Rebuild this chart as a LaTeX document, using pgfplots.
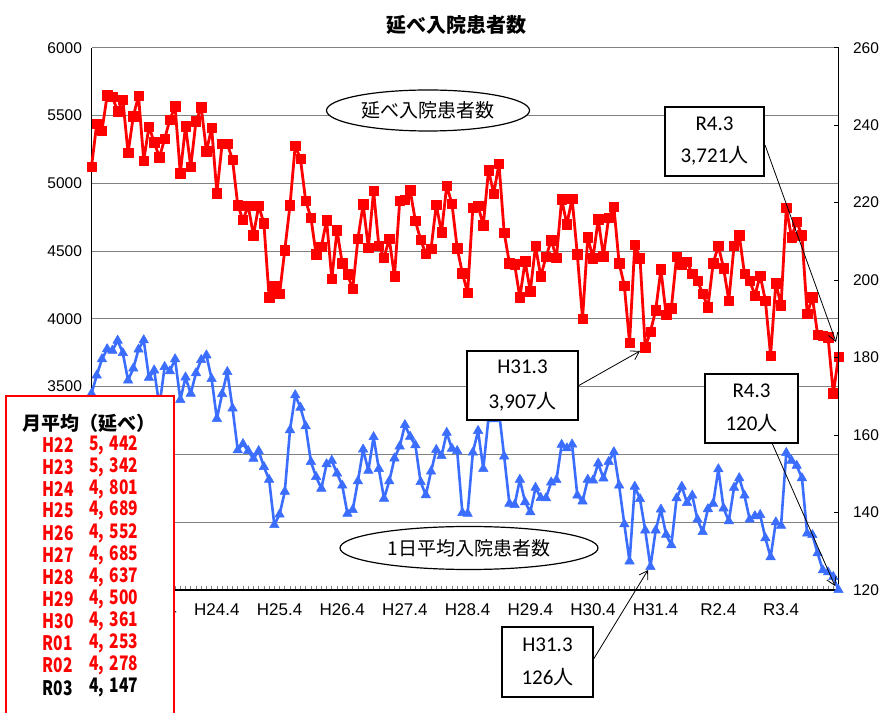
\documentclass[border=0pt]{standalone}
\usepackage{pgfplots}
\pgfplotsset{compat=1.18}
\usepackage{pgfplotstable}
\usepackage{fontspec}
\setmainfont{Liberation Sans}
\newfontfamily\jp{Noto Sans CJK JP}
\newfontfamily\jpn{Noto Sans CJK JP}[FakeStretch=0.78]
\newfontfamily\calfont{Carlito}
\usetikzlibrary{arrows.meta}
\definecolor{myred}{RGB}{255,0,0}
\definecolor{myblue}{RGB}{59,110,255}
\definecolor{gridgray}{RGB}{128,128,128}

\pgfplotstableread{
i red blue
0 5122 170.7
1 5438 175.4
2 5389 179.6
3 5648 182.2
4 5636 181.8
5 5532 184.4
6 5616 181.2
7 5223 174.1
8 5493 177.2
9 5645 182.1
10 5167 184.5
11 5419 174.8
12 5302 176.7
13 5191 167.5
14 5327 177.6
15 5470 176.5
16 5567 179.6
17 5073 169.1
18 5421 174.9
19 5122 170.7
20 5456 176.0
21 5562 179.4
22 5236 180.6
23 5409 174.5
24 4927 164.2
25 5290 170.6
26 5290 176.3
27 5174 166.9
28 4838 156.1
29 4730 157.7
30 4833 155.9
31 4616 153.9
32 4833 155.9
33 4705 151.8
34 4159 148.5
35 4241 136.8
36 4184 139.5
37 4507 145.4
38 4838 161.3
39 5278 170.3
40 5179 167.1
41 4870 162.3
42 4747 153.1
43 4475 149.2
44 4532 146.2
45 4727 152.5
46 4295 153.4
47 4653 150.1
48 4410 147.0
49 4330 139.7
50 4220 140.7
51 4590 148.1
52 4845 156.3
53 4525 150.8
54 4943 159.5
55 4540 151.3
56 4452 143.6
57 4590 148.1
58 4313 154.0
59 4869 157.1
60 4879 162.6
61 4948 159.6
62 4722 157.4
63 4584 147.9
64 4480 144.5
65 4517 150.6
66 4842 156.2
67 4638 154.6
68 4980 160.6
69 4850 156.5
70 4522 155.9
71 4337 139.9
72 4192 139.7
73 4820 155.5
74 4833 161.1
75 4690 151.3
76 5096 164.4
77 4924 164.1
78 5145 166.0
79 4636 154.5
80 4411 142.3
81 4402 142.0
82 4158 148.5
83 4424 142.7
84 4204 140.1
85 4537 146.4
86 4313 143.8
87 4456 143.7
88 4581 147.8
89 4451 148.4
90 4882 157.5
91 4697 156.6
92 4887 157.6
93 4475 144.4
94 4000 142.9
95 4603 148.5
96 4448 148.3
97 4734 152.7
98 4463 148.8
99 4746 153.1
100 4825 155.6
101 4411 147.0
102 4246 137.0
103 3823 127.4
104 4547 146.7
105 4448 143.5
106 3791 135.4
107 3907 126.0
108 4062 135.4
109 4365 140.8
110 4030 134.3
111 4079 131.6
112 4456 143.7
113 4401 146.7
114 4419 142.5
115 4333 144.4
116 4283 138.2
117 4185 135.0
118 4086 140.9
119 4411 142.3
120 4537 151.2
121 4374 141.1
122 4135 137.8
123 4537 146.4
124 4616 148.9
125 4333 144.4
126 4283 138.2
127 4172 139.1
128 4320 139.4
129 4135 133.4
130 3730 128.5
131 4264 137.5
132 4099 136.6
133 4818 155.4
134 4603 153.4
135 4714 152.1
136 4616 148.9
137 4037 134.6
138 4160 134.2
139 3884 129.5
140 3877 125.1
141 3865 124.6
142 3450 123.4
143 3721 120.0
}\data

\begin{document}
\begin{tikzpicture}[x=1pt,y=1pt]
\useasboundingbox (0,0) rectangle (883,712);
\begin{axis}[
  at={(91.5pt,122pt)}, anchor=south west,
  scale only axis, width=747pt, height=542.3pt,
  xmin=0, xmax=143, ymin=2000, ymax=6000,
  axis x line*=bottom, axis y line*=left,
  axis line style={-, black, line width=1.3pt},
  ytick={2000,2500,...,6000},
  yticklabels={,,,3500,4000,4500,5000,5500,6000},
  ymajorgrids, grid style={gridgray, line width=1pt},
  ytick style={draw=none},
  xtick={0,12,...,132},
  xticklabels={,H23.4,H24.4,H25.4,H26.4,H27.4,H28.4,H29.4,H30.4,H31.4,R2.4,R3.4},
  minor xtick={0,...,143},
  tick align=inside,
  major tick length=4pt, minor tick length=4pt,
  xtick style={gridgray, line width=0.6pt},
  minor tick style={gridgray, line width=0.6pt},
  /pgf/number format/assume math mode=true,
  scaled y ticks=false,
  yticklabel style={font=\fontsize{15.5}{16}\selectfont, xshift=-6pt},
  xticklabel style={font=\fontsize{17}{18}\selectfont, yshift=-10pt},
  clip=false,
]
\addplot[myred, line width=2.8pt, line join=round, mark=square*, mark size=4.7pt, mark options={line width=0.5pt, fill=myred}] table[x=i,y=red]{\data};
\end{axis}
\begin{axis}[
  at={(91.5pt,122pt)}, anchor=south west,
  scale only axis, width=747pt, height=542.3pt,
  xmin=0, xmax=143, ymin=120, ymax=260,
  axis y line*=right, axis x line=none,
  axis line style={-, black, line width=1.3pt},
  ytick={120,140,...,260},
  tick align=inside, major tick length=5pt,
  ytick style={black, line width=0.8pt},
  /pgf/number format/assume math mode=true,
  yticklabel style={font=\fontsize{15.5}{16}\selectfont, xshift=11pt},
  clip=false,
]
\addplot[myblue, line width=2.6pt, line join=round, mark=triangle*, mark size=5.5pt, mark options={line width=0.5pt, fill=myblue}] table[x=i,y=blue]{\data};
\end{axis}

% title
\node at (456,687) {\jp\bfseries\fontsize{20}{22}\selectfont 延べ入院患者数};

% ellipses
\draw[fill=white, line width=1.2pt] (428,601.5) ellipse [x radius=101.5, y radius=20.5];
\node at (428,601.5) {\jp\fontsize{19}{20}\selectfont 延べ入院患者数};
\draw[fill=white, line width=1.2pt] (469,164) ellipse [x radius=129, y radius=21.5];
\node at (469,164) {\jp\fontsize{19}{20}\selectfont 1日平均入院患者数};

% callouts
\tikzset{callout/.style={draw=black, fill=white, line width=1.2pt},
  arr/.style={line width=0.8pt, -{Straight Barb[length=8pt,width=10pt]}}}
\draw[callout] (665,536) rectangle (764,605);
\node at (714.5,588) {\calfont\fontsize{21}{22}\selectfont R4.3};
\node at (714.5,556) {\calfont\fontsize{21}{22}\selectfont 3,721{\jp\fontsize{20}{22}\selectfont 人}};
\draw[arr] (765,567) -- (836,370);

\draw[callout] (705,269) rectangle (798,338);
\node at (751.5,321) {\calfont\fontsize{21}{22}\selectfont R4.3};
\node at (751.5,289) {\calfont\fontsize{21}{22}\selectfont 120{\jp\fontsize{20}{22}\selectfont 人}};
\draw[arr] (772,269) -- (835,126);

\draw[callout] (467,292) rectangle (578,361);
\node at (522.5,345) {\calfont\fontsize{21}{22}\selectfont H31.3};
\node at (522.5,310) {\calfont\fontsize{21}{22}\selectfont 3,907{\jp\fontsize{20}{22}\selectfont 人}};
\draw[arr] (578,326) -- (640,361);

\draw[callout] (502,15) rectangle (593,85);
\node at (547.5,67) {\calfont\fontsize{21}{22}\selectfont H31.3};
\node at (547.5,35) {\calfont\fontsize{21}{22}\selectfont 126{\jp\fontsize{20}{22}\selectfont 人}};
\draw[arr] (593,52) -- (648,142);

% monthly average box
\draw[myred, line width=1.6pt, fill=white] (6,-5) rectangle (174,316);
\node[anchor=west] at (19,289) {\jp\bfseries\fontsize{19}{20}\selectfont 月平均（延べ）};
\foreach \y/\lab/\val/\c in {267/H22/{5,\;442}/myred, 245/H23/{5,\;342}/myred, 223/H24/{4,\;801}/myred, 202/H25/{4,\;689}/myred, 179/H26/{4,\;552}/myred, 157/H27/{4,\;685}/myred, 135/H28/{4,\;637}/myred, 113/H29/{4,\;500}/myred, 91/H30/{4,\;361}/myred, 69/R01/{4,\;253}/myred, 47/R02/{4,\;278}/myred, 24/R03/{4,\;147}/black} {
  \node[anchor=west, text=\c] at (39,\y) {\jpn\bfseries\fontsize{20}{22}\selectfont \lab};
  \node[anchor=east, text=\c] at (142,\y) {\jpn\bfseries\fontsize{20}{22}\selectfont \val};
}
\end{tikzpicture}
\end{document}
